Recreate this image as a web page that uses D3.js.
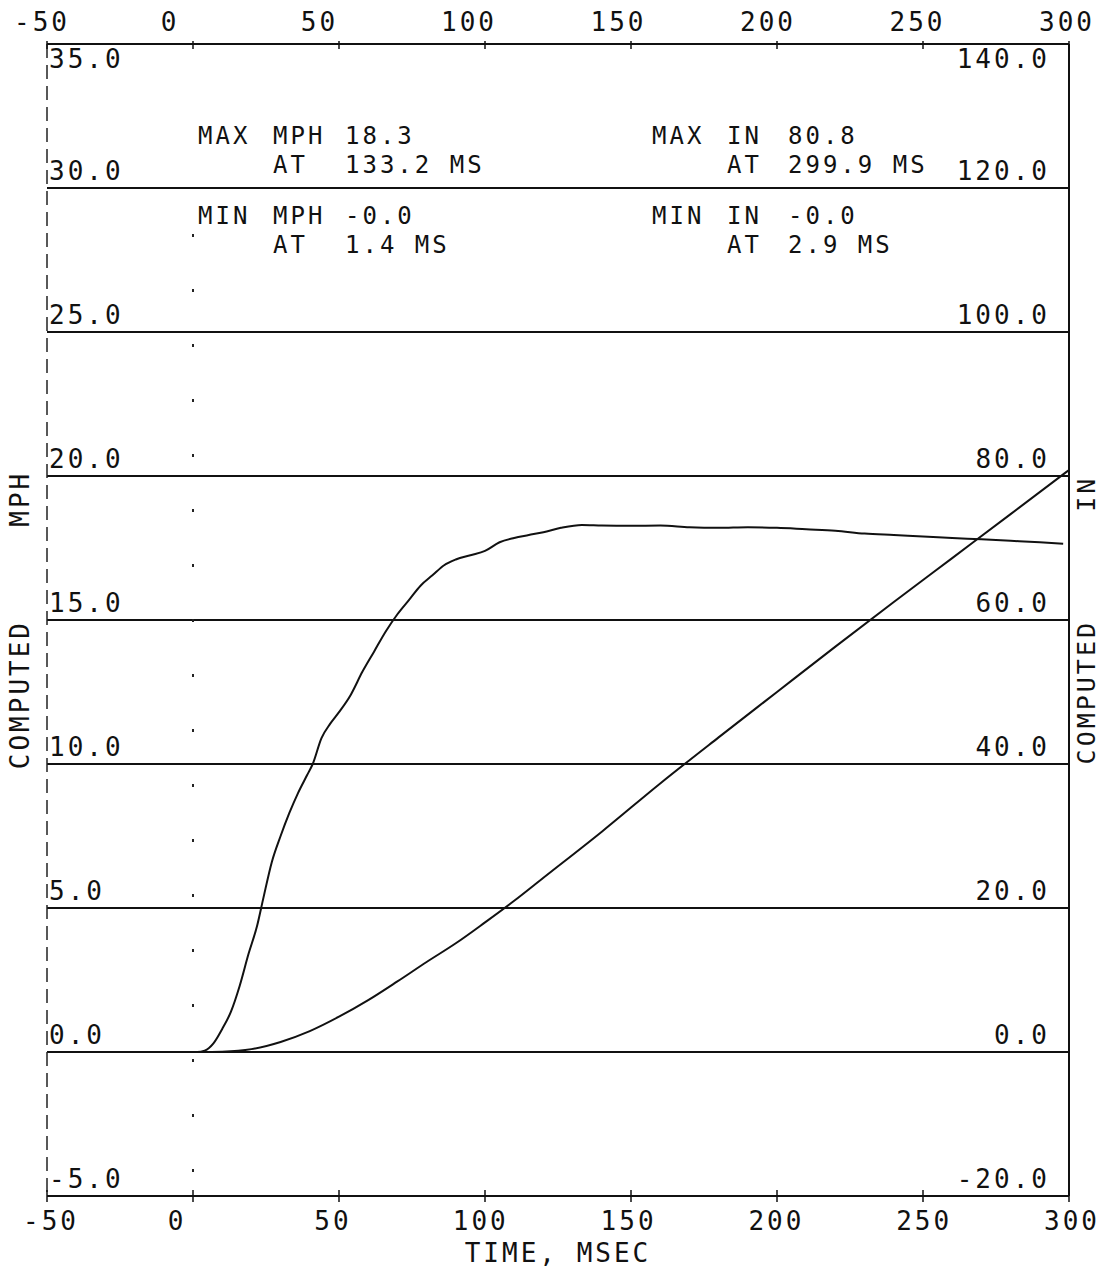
<!DOCTYPE html>
<html>
<head>
<meta charset="utf-8">
<script src="https://cdn.jsdelivr.net/npm/d3@7"></script>
<style>
  html, body { margin: 0; padding: 0; background: #fff; }
  svg { display: block; }
  text { font-family: "DejaVu Sans Mono", "Liberation Mono", monospace; fill: #111; }
</style>
</head>
<body>
<svg id="chart" width="1103" height="1275"></svg>
<script>
// Time axis ticks (ms)
const timeTicks = [-50, 0, 50, 100, 150, 200, 250, 300];
// Left axis (computed speed, mph) and right axis (computed displacement, in)
const mphTicks = [35, 30, 25, 20, 15, 10, 5, 0, -5];
const mphTickLabels = ["35.0", "30.0", "25.0", "20.0", "15.0", "10.0", "5.0", "0.0", "-5.0"];
const inTicks = [140, 120, 100, 80, 60, 40, 20, 0, -20];
const inTickLabels = ["140.0", "120.0", "100.0", "80.0", "60.0", "40.0", "20.0", "0.0", "-20.0"];

// Computed speed trace
const mphTime = [0, 1.4, 4, 7, 10, 13, 16, 19, 22, 24, 27, 30, 33, 36, 39, 41, 44, 47, 50, 54, 58,
  62, 66, 70, 74, 78, 82, 86, 90, 95, 100, 105, 110, 115, 120, 126, 133.2, 140, 150, 160, 170,
  180, 190, 200, 210, 220, 230, 240, 250, 260, 270, 280, 290, 298];
const mphValue = [0, 0, 0.05, 0.3, 0.8, 1.4, 2.3, 3.4, 4.4, 5.3, 6.6, 7.5, 8.3, 9.0, 9.6, 10.0, 10.9,
  11.4, 11.8, 12.4, 13.2, 13.9, 14.6, 15.2, 15.7, 16.2, 16.55, 16.9, 17.1, 17.25, 17.4, 17.7, 17.85,
  17.95, 18.05, 18.2, 18.3, 18.28, 18.27, 18.28, 18.22, 18.2, 18.22, 18.2, 18.15, 18.1, 18.0, 17.95,
  17.9, 17.85, 17.8, 17.75, 17.7, 17.65];

// Computed displacement trace
const inTime = [0, 2.9, 10, 20, 30, 40, 50, 60, 70, 80, 90, 100, 110, 120, 140, 160, 180, 200,
  220, 240, 260, 280, 299.9];
const inValue = [0, 0, 0.05, 0.4, 1.4, 2.9, 4.9, 7.2, 9.8, 12.5, 15.1, 18.0, 21.0, 24.2, 30.6,
  37.3, 43.7, 50.0, 56.3, 62.5, 68.6, 74.7, 80.8];

// Extreme-value summary block
const summaryLeft = [
  ["MAX", "MPH", "18.3"],
  ["", "AT", "133.2 MS"],
  ["MIN", "MPH", "-0.0"],
  ["", "AT", "1.4 MS"]
];
const summaryRight = [
  ["MAX", "IN", "80.8"],
  ["", "AT", "299.9 MS"],
  ["MIN", "IN", "-0.0"],
  ["", "AT", "2.9 MS"]
];

(function draw() {
  const svg = d3.select("#chart");
  const pL = 47, pR = 1069, pT = 44, pB = 1196;

  const x = d3.scaleLinear().domain([-50, 300]).range([pL, pR]);
  const yL = d3.scaleLinear().domain([-5, 35]).range([pB, pT]);
  const yR = d3.scaleLinear().domain([-20, 140]).range([pB, pT]);
  // label placement along the time axes
  const xTopLabel = d3.scaleLinear().domain([-50, 0, 300]).range([42, 170, 1067]);
  const xBotLabel = d3.scaleLinear().domain([-50, 0, 50, 300]).range([51, 177, 333, 1072]);

  const fontSize = 26, spacing = 3;
  const txt = (sel, fs = fontSize) => sel.attr("font-size", fs).attr("letter-spacing", spacing);

  // horizontal grid lines (one per mph tick, includes top and bottom frame)
  svg.append("g").selectAll("line").data(mphTicks).join("line")
    .attr("x1", x(-50)).attr("x2", x(300))
    .attr("y1", d => yL(d)).attr("y2", d => yL(d))
    .attr("stroke", "#111").attr("stroke-width", 2);

  // left frame (broken) and zero-time marker
  svg.append("line").attr("x1", x(-50)).attr("x2", x(-50)).attr("y1", pT).attr("y2", pB)
    .attr("stroke", "#222").attr("stroke-width", 1.5).attr("stroke-dasharray", "14,7");
  svg.append("line").attr("x1", x(0)).attr("x2", x(0)).attr("y1", pT + 190).attr("y2", pB)
    .attr("stroke", "#222").attr("stroke-width", 2).attr("stroke-dasharray", "3,52");
  // right frame
  svg.append("line").attr("x1", x(300)).attr("x2", x(300)).attr("y1", pT).attr("y2", pB)
    .attr("stroke", "#111").attr("stroke-width", 2);

  // time ticks
  svg.append("g").selectAll("line").data(timeTicks).join("line")
    .attr("x1", d => x(d)).attr("x2", d => x(d))
    .attr("y1", pT - 3).attr("y2", pT + 5)
    .attr("stroke", "#111").attr("stroke-width", 1.5);
  svg.append("g").selectAll("line").data(timeTicks).join("line")
    .attr("x1", d => x(d)).attr("x2", d => x(d))
    .attr("y1", pB - 6).attr("y2", pB + 6)
    .attr("stroke", "#111").attr("stroke-width", 1.5);

  // time tick labels
  txt(svg.append("g").selectAll("text").data(timeTicks).join("text"))
    .attr("x", d => xTopLabel(d)).attr("y", 31).attr("text-anchor", "middle")
    .text(d => d);
  txt(svg.append("g").selectAll("text").data(timeTicks).join("text"))
    .attr("x", d => xBotLabel(d)).attr("y", 1230).attr("text-anchor", "middle")
    .text(d => d);

  // mph labels (left) and inch labels (right)
  txt(svg.append("g").selectAll("text").data(mphTicks).join("text"))
    .attr("x", 49)
    .attr("y", (d, i) => i === 0 ? yL(d) + 24 : yL(d) - 8)
    .text((d, i) => mphTickLabels[i]);
  txt(svg.append("g").selectAll("text").data(inTicks).join("text"))
    .attr("x", 1050).attr("text-anchor", "end")
    .attr("y", (d, i) => i === 0 ? yR(d) + 24 : yR(d) - 8)
    .text((d, i) => inTickLabels[i]);

  // axis titles
  txt(svg.append("text"))
    .attr("transform", `translate(29,${(pT + pB) / 2}) rotate(-90)`)
    .attr("text-anchor", "middle").style("white-space", "pre")
    .text("COMPUTED     MPH");
  txt(svg.append("text"), 25)
    .attr("transform", `translate(1095,${(pT + pB) / 2}) rotate(-90)`)
    .attr("text-anchor", "middle").style("white-space", "pre")
    .text("COMPUTED      IN");
  txt(svg.append("text"))
    .attr("x", (pL + pR) / 2).attr("y", 1262).attr("text-anchor", "middle")
    .style("white-space", "pre")
    .text("TIME, MSEC");

  // traces
  const mphLine = d3.line().x(d => x(d[0])).y(d => yL(d[1])).curve(d3.curveMonotoneX);
  const inLine = d3.line().x(d => x(d[0])).y(d => yR(d[1])).curve(d3.curveMonotoneX);
  svg.append("path").datum(d3.zip(mphTime, mphValue)).attr("d", mphLine)
    .attr("fill", "none").attr("stroke", "#111").attr("stroke-width", 2);
  svg.append("path").datum(d3.zip(inTime, inValue)).attr("d", inLine)
    .attr("fill", "none").attr("stroke", "#111").attr("stroke-width", 2);

  // summary of extremes
  const rowY = [144, 173, 224, 253];
  function summary(rows, cols) {
    rows.forEach((r, i) => {
      r.forEach((s, j) => {
        if (!s) return;
        txt(svg.append("text"), 24).attr("x", cols[j]).attr("y", rowY[i]).text(s);
      });
    });
  }
  summary(summaryLeft, [198, 273, 345]);
  summary(summaryRight, [652, 727, 788]);
})();
</script>
</body>
</html>
